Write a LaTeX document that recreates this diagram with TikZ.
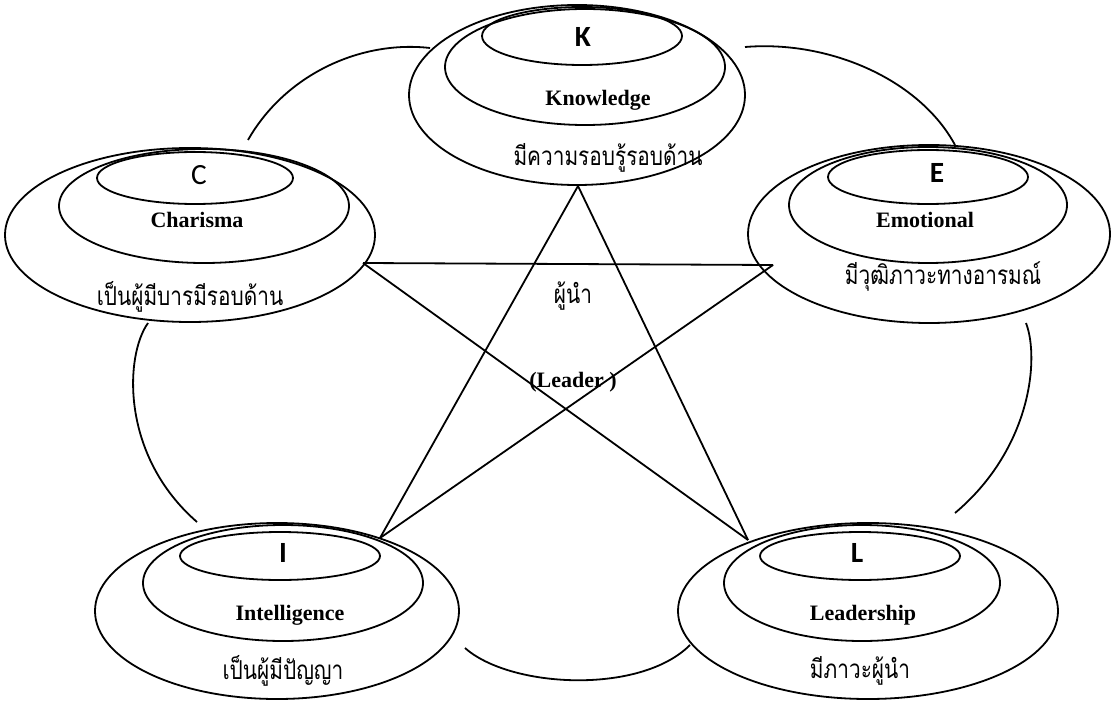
\documentclass[tikz,border=0pt]{standalone}
\usepackage{fontspec}
\usepackage{graphicx}
\setmainfont{Liberation Serif}
\newfontfamily\thaifont[Script=Thai]{Loma}
\newfontfamily\carlito{Carlito}
\newcommand{\thtxt}[1]{\scalebox{0.8}[1]{\thaifont\fontsize{19.5}{22}\selectfont #1}}
\usetikzlibrary{shapes.geometric}
\tikzset{
  ell/.style n args={2}{ellipse, draw, inner sep=0pt, minimum width={1.5pt*#1}, minimum height={1.5pt*#2}},
  letter/.style={font=\carlito\fontsize{22}{24}\selectfont\bfseries},
  letterr/.style={font=\carlito\fontsize{22}{24}\selectfont},
  eng/.style={font=\fontsize{16.5}{18}\selectfont\bfseries},
  thai/.style={inner sep=1pt}
}
\begin{document}
\begin{tikzpicture}[x=0.75pt,y=-0.75pt,line width=1.35pt]
\useasboundingbox (0,0) rectangle (1112,702);
% K
\node[ell={168}{90}] (Ko) at (577,95) {};
\node[ell={140}{58}] (Km) at (585,67) {};
\node[ell={100}{29}] (Ki) at (582,36) {};
\node[letter] (Kl) at (583,37) {K};
\node[eng] (Ke) at (598,100) {Knowledge};
\node[thai] (Kt) at (608,158) {\thtxt{มีความรอบรู้รอบด้าน}};
% C
\node[ell={185}{87}] (Co) at (190,235) {};
\node[ell={145}{57}] (Cm) at (204,206) {};
\node[ell={98}{26}] (Ci) at (195,178) {};
\node[letterr] (Cl) at (199,175) {C};
\node[eng] (Ce) at (197,220) {Charisma};
\node[thai] (Ct) at (190,297) {\thtxt{เป็นผู้มีบารมีรอบด้าน}};
% E
\node[ell={181}{89}] (Eo) at (929,234) {};
\node[ell={139}{58}] (Em) at (928,205) {};
\node[ell={100}{27}] (Ei) at (928,177) {};
\node[letter] (El) at (937,173) {E};
\node[eng] (Ee) at (925,220) {Emotional};
\node[thai] (Et) at (943,276) {\thtxt{มีวุฒิภาวะทางอารมณ์}};
% I
\node[ell={182}{88}] (Io) at (277,611) {};
\node[ell={140}{58}] (Im) at (283,583) {};
\node[ell={100}{24}] (Ii) at (280,556) {};
\node[letter] (Il) at (283,553) {I};
\node[eng] (Ie) at (290,615) {Intelligence};
\node[thai] (It) at (283,671) {\thtxt{เป็นผู้มีปัญญา}};
% L
\node[ell={190}{88}] (Lo) at (868,611) {};
\node[ell={138}{58}] (Lm) at (862,583) {};
\node[ell={100}{24}] (Li) at (860,556) {};
\node[letter] (Ll) at (857,553) {L};
\node[eng] (Le) at (863,615) {Leadership};
\node[thai] (Lt) at (860,671) {\thtxt{มีภาวะผู้นำ}};
% centre
\node[thai] (ct1) at (573,296) {\thtxt{ผู้นำ}};
\node[eng] (ct2) at (573,382) {(Leader )};
% star points
\coordinate (pK) at (578,186);
\coordinate (pC) at (363,263);
\coordinate (pE) at (773,265);
\coordinate (pI) at (380,538);
\coordinate (pL) at (748,540);
\draw (pK) -- (pI);
\draw (pK) -- (pL);
\draw (pC) -- (pE);
\draw (pC) -- (pL);
\draw (pE) -- (pI);
% outer arcs
\coordinate (a1) at (248,140); \coordinate (a2) at (430,48);
\coordinate (b1) at (745,47);  \coordinate (b2) at (955,145);
\coordinate (c1) at (1026,323); \coordinate (c2) at (955,513);
\coordinate (d1) at (465,648); \coordinate (d2) at (690,645);
\coordinate (e1) at (148,323); \coordinate (e2) at (197,522);
\draw (a1) .. controls (285,75) and (360,40) .. (a2);
\draw (b1) .. controls (830,40) and (920,80) .. (b2);
\draw (c1) .. controls (1040,360) and (1030,450) .. (c2);
\draw (d1) .. controls (510,688) and (640,695) .. (d2);
\draw (e1) .. controls (125,355) and (120,455) .. (e2);
\end{tikzpicture}
\end{document}
